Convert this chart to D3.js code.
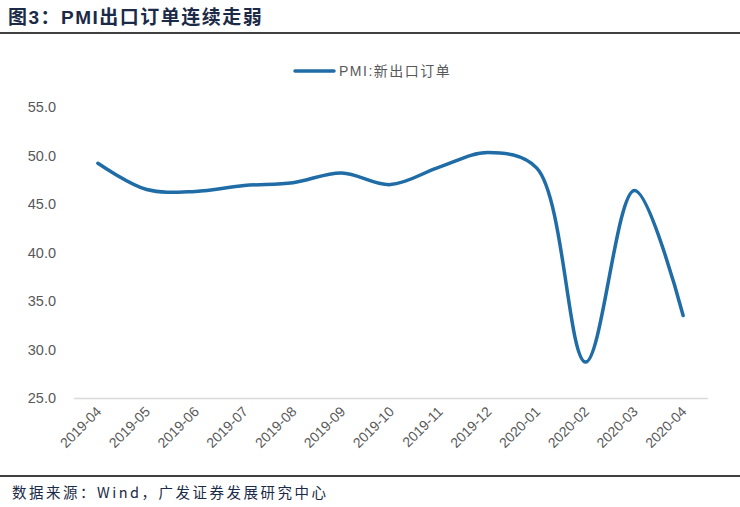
<!DOCTYPE html>
<html><head><meta charset="utf-8">
<script src="https://cdn.jsdelivr.net/npm/d3@7"></script>
<style>body{margin:0;background:#fff}</style>
</head><body><svg id="c" width="740" height="507"></svg>
<script>
const categories = ["2019-04","2019-05","2019-06","2019-07","2019-08","2019-09","2019-10","2019-11","2019-12","2020-01","2020-02","2020-03","2020-04"];
const exportOrders = [49.2,46.5,46.3,46.9,47.2,48.2,47.0,48.8,50.3,48.7,28.7,46.4,33.5];
const yTicks = [25,30,35,40,45,50,55];
const seriesName = "PMI:新出口订单";
const titleText = "图3：PMI出口订单连续走弱";
const sourceText = "数据来源：Wind，广发证券发展研究中心";

const svg = d3.select("#c");
const lineColor = "#1f6ca6";
const textColor = "#595959";
const cjk = "Arial, 'Liberation Sans', 'Noto Sans CJK SC', sans-serif";

svg.append("text").attr("x",8).attr("y",24)
  .attr("font-family","Arial, 'Noto Sans CJK SC', sans-serif").attr("font-weight","bold")
  .attr("font-size",19).attr("letter-spacing",1.5).attr("fill","#1b2a47").text(titleText);
svg.append("line").attr("x1",0).attr("x2",740).attr("y1",33).attr("y2",33)
  .attr("stroke","#000").attr("stroke-width",1.5);
svg.append("line").attr("x1",0).attr("x2",740).attr("y1",476).attr("y2",476)
  .attr("stroke","#000").attr("stroke-width",1.5);
svg.append("text").attr("x",12).attr("y",498)
  .attr("font-family","'Noto Sans CJK SC', sans-serif").attr("letter-spacing",2.5)
  .attr("font-size",14.5).attr("fill","#1b2a47").text(sourceText);

const x = d3.scaleBand().domain(categories).range([73.5,707.5]);
const y = d3.scaleLinear().domain([25,55]).range([398,107]);

// y axis labels
const ya = svg.append("g").attr("transform","translate(56,0)")
  .call(d3.axisLeft(y).tickValues(yTicks).tickFormat(d3.format(".1f")).tickSize(0).tickPadding(0));
ya.select(".domain").remove();
ya.selectAll("text").attr("font-family",cjk).attr("font-size",14.5).attr("fill",textColor);

// x axis
const xa = svg.append("g").attr("transform","translate(0,398)")
  .call(d3.axisBottom(x).tickSize(0).tickPadding(0));
xa.select(".domain").attr("stroke","#d9d9d9").attr("stroke-width",1.5);
xa.selectAll("text").attr("font-family",cjk).attr("font-size",14).attr("fill",textColor)
  .attr("text-anchor","end").attr("dy","0.35em")
  .attr("transform","translate(1,11) rotate(-45)");

// line
const line = d3.line().x((d,i)=>x(categories[i])+x.bandwidth()/2).y(d=>y(d))
  .curve(d3.curveCatmullRom.alpha(0.5));
svg.append("path").datum(exportOrders).attr("d",line)
  .attr("fill","none").attr("stroke",lineColor).attr("stroke-width",3.5)
  .attr("stroke-linecap","round").attr("stroke-linejoin","round");

// legend
svg.append("line").attr("x1",295).attr("x2",334).attr("y1",71).attr("y2",71)
  .attr("stroke",lineColor).attr("stroke-width",3.5).attr("stroke-linecap","round");
svg.append("text").attr("x",339).attr("y",76).attr("font-family",cjk).attr("letter-spacing",1.5)
  .attr("font-size",14).attr("fill",textColor).text(seriesName);
</script></body></html>
